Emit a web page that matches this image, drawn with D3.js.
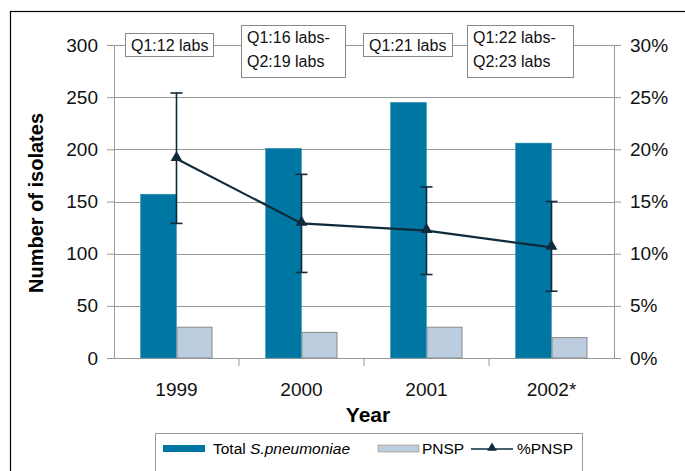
<!DOCTYPE html>
<html>
<head>
<style>
    body { margin: 0; background: #fff; }
    text { font-family: "Liberation Sans", Arial, sans-serif; }
</style>
</head>
<body>
    <div class="graph"></div>

    <script src="https://d3js.org/d3.v7.min.js"></script>
    <script>
        var years = ['1999', '2000', '2001', '2002*']
        var total = [157, 201, 245, 206]
        var pnsp = [30, 25, 30, 20]
        var pctPnsp = [19.1, 12.9, 12.2, 10.6]
        var pctHigh = [25.4, 17.6, 16.4, 15.0]
        var pctLow = [12.9, 8.2, 8.0, 6.4]
        var labNotes = [['Q1:12 labs'], ['Q1:16 labs-', 'Q2:19 labs'], ['Q1:21 labs'], ['Q1:22 labs-', 'Q2:23 labs']]
        var leftTicks = [0, 50, 100, 150, 200, 250, 300]
        var rightTicks = [0, 5, 10, 15, 20, 25, 30]

        var width = 685,
            height = 471,
            plotL = 114, plotR = 614, plotT = 45, plotB = 358

        var svg = d3.select('.graph').append('svg')
            .attr('width', width)
            .attr('height', height)

        // outer frame
        svg.append('rect')
            .attr('x', 10.5).attr('y', 11.5)
            .attr('width', 700).attr('height', 500)
            .style('fill', 'none').style('stroke', '#000').style('stroke-width', 1.2)

        var x = d3.scaleBand().domain(years).range([plotL, plotR])
        var y = d3.scaleLinear().domain([0, 300]).range([plotB, plotT])
        var y2 = d3.scaleLinear().domain([0, 30]).range([plotB, plotT])
        var barW = 36

        // gridlines
        svg.append('g').selectAll('line')
            .data(leftTicks.slice(1))
            .join('line')
            .attr('x1', plotL).attr('x2', plotR)
            .attr('y1', function (d) { return Math.round(y(d)) + 0.5 })
            .attr('y2', function (d) { return Math.round(y(d)) + 0.5 })
            .style('stroke', '#999')

        var yAxis = svg.append('g')
            .attr('transform', 'translate(' + plotL + ',0)')
            .call(d3.axisLeft(y).tickValues(leftTicks).tickSize(7).tickPadding(9))
        var y2Axis = svg.append('g')
            .attr('transform', 'translate(' + plotR + ',0)')
            .call(d3.axisRight(y2).tickValues(rightTicks).tickSize(7).tickPadding(9)
                .tickFormat(function (d) { return d + '%' }))
        var xAxis = svg.append('g')
            .attr('transform', 'translate(0,' + plotB + ')')
            .call(d3.axisBottom(x).tickSize(0).tickPadding(25))

        ;[yAxis, y2Axis, xAxis].forEach(function (a) {
            a.selectAll('.domain').style('stroke', '#999')
            a.selectAll('line').style('stroke', '#999')
            a.selectAll('text').style('font-size', '19px').style('fill', '#111')
                .style('font-family', '"Liberation Sans", Arial, sans-serif')
        })

        // category separator ticks
        svg.append('g').selectAll('line')
            .data(years.slice(1))
            .join('line')
            .attr('x1', function (d) { return x(d) }).attr('x2', function (d) { return x(d) })
            .attr('y1', plotB).attr('y2', plotB + 8)
            .style('stroke', '#999')

        // bars
        svg.append('g').selectAll('rect')
            .data(total)
            .join('rect')
            .attr('x', function (d, i) { return x(years[i]) + x.bandwidth() / 2 - barW })
            .attr('y', function (d) { return y(d) })
            .attr('width', barW)
            .attr('height', function (d) { return plotB - y(d) })
            .style('fill', '#0077a2')
            .style('stroke', '#3a8fb0').style('stroke-width', 0.5)

        svg.append('g').selectAll('rect')
            .data(pnsp)
            .join('rect')
            .attr('x', function (d, i) { return x(years[i]) + x.bandwidth() / 2 + 0.5 })
            .attr('y', function (d) { return y(d) + 0.5 })
            .attr('width', barW - 1)
            .attr('height', function (d) { return plotB - y(d) - 0.5 })
            .style('fill', '#bccde0')
            .style('stroke', '#8a8a8a').style('stroke-width', 1)

        var cx = function (i) { return x(years[i]) + x.bandwidth() / 2 }
        var navy = '#0e2a3b'

        // error bars
        var err = svg.append('g').selectAll('g')
            .data(pctPnsp)
            .join('g')
        err.append('line')
            .attr('x1', function (d, i) { return cx(i) }).attr('x2', function (d, i) { return cx(i) })
            .attr('y1', function (d, i) { return y2(pctHigh[i]) })
            .attr('y2', function (d, i) { return y2(pctLow[i]) })
            .style('stroke', navy).style('stroke-width', 1.6)
        err.append('line')
            .attr('x1', function (d, i) { return cx(i) - 6 }).attr('x2', function (d, i) { return cx(i) + 6 })
            .attr('y1', function (d, i) { return y2(pctHigh[i]) })
            .attr('y2', function (d, i) { return y2(pctHigh[i]) })
            .style('stroke', navy).style('stroke-width', 1.6)
        err.append('line')
            .attr('x1', function (d, i) { return cx(i) - 6 }).attr('x2', function (d, i) { return cx(i) + 6 })
            .attr('y1', function (d, i) { return y2(pctLow[i]) })
            .attr('y2', function (d, i) { return y2(pctLow[i]) })
            .style('stroke', navy).style('stroke-width', 1.6)

        // %PNSP line
        var line = d3.line()
            .x(function (d, i) { return cx(i) })
            .y(function (d) { return y2(d) })
        svg.append('path')
            .datum(pctPnsp)
            .attr('d', line)
            .style('fill', 'none').style('stroke', navy).style('stroke-width', 2.2)

        var tri = d3.symbol().type(d3.symbolTriangle).size(60)
        svg.append('g').selectAll('path')
            .data(pctPnsp)
            .join('path')
            .attr('d', tri)
            .attr('transform', function (d, i) { return 'translate(' + cx(i) + ',' + (y2(d) - 1) + ')' })
            .style('fill', navy)

        // lab annotation boxes (placed as in the original, not centred)
        var boxX = [125, 241, 363, 467]
        var boxW = [88, 104, 89, 106]
        var notes = svg.append('g').selectAll('g')
            .data(labNotes)
            .join('g')
            .attr('transform', function (d, i) {
                return 'translate(' + boxX[i] + ',' + (y(300) - (d.length === 1 ? 12 : 20)) + ')'
            })
        notes.append('rect')
            .attr('x', 0.5).attr('y', 0.5)
            .attr('width', function (d, i) { return boxW[i] })
            .attr('height', function (d) { return d.length === 1 ? 23 : 52 })
            .style('fill', '#fff').style('stroke', '#888')
        notes.each(function (d) {
            var g = d3.select(this)
            d.forEach(function (t, j) {
                g.append('text')
                    .attr('x', 6)
                    .attr('y', 18 + j * 24)
                    .style('font-size', '16px').style('fill', '#111')
                    .text(t)
            })
        })

        // axis titles
        svg.append('text')
            .attr('transform', 'translate(43,' + 203 + ') rotate(-90)')
            .attr('text-anchor', 'middle')
            .style('font-size', '20px').style('font-weight', 'bold')
            .text('Number of isolates')
        svg.append('text')
            .attr('x', 368).attr('y', 422)
            .attr('text-anchor', 'middle')
            .style('font-size', '21px').style('font-weight', 'bold')
            .text('Year')

        // legend
        var lg = svg.append('g').attr('transform', 'translate(155,433)')
        lg.append('rect')
            .attr('x', 0.5).attr('y', 0.5).attr('width', 427).attr('height', 45)
            .style('fill', '#fff').style('stroke', '#999')
        lg.append('rect').attr('x', 8).attr('y', 12).attr('width', 42).attr('height', 7)
            .style('fill', '#0077a2')
        var t1 = lg.append('text').attr('x', 58).attr('y', 21).style('font-size', '15.5px')
        t1.append('tspan').text('Total ')
        t1.append('tspan').style('font-style', 'italic').text('S.pneumoniae')
        lg.append('rect').attr('x', 223).attr('y', 12).attr('width', 41).attr('height', 7)
            .style('fill', '#bccde0').style('stroke', '#a08a60').style('stroke-width', 0.6)
        lg.append('text').attr('x', 267).attr('y', 21).style('font-size', '15.5px').text('PNSP')
        lg.append('line').attr('x1', 316).attr('x2', 358).attr('y1', 16).attr('y2', 16)
            .style('stroke', navy).style('stroke-width', 1.5)
        lg.append('path').attr('d', d3.symbol().type(d3.symbolTriangle).size(40))
            .attr('transform', 'translate(337,15)').style('fill', navy)
        lg.append('text').attr('x', 362).attr('y', 21).style('font-size', '15.5px').text('%PNSP')
    </script>
</body>
</html>
